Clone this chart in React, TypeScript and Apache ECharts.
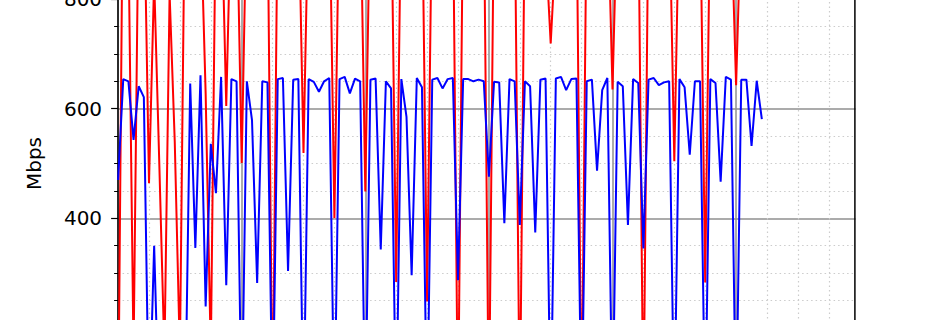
import React, { useEffect, useRef } from "react";
import * as echarts from "echarts";

// sample index on the x axis (one sample per step)
const blueValues: number[] = [
  470, 654, 650, 543, 641, 621, 20, 350, 20, 20, 20, 20, 20, 20,
  646, 346, 661, 239, 536, 446, 658,
  278, 654, 650, 20, 650, 579, 282, 650, 648, 20,
  654, 656, 304, 653, 654, 20, 654, 649, 631, 650, 656,
  20, 654, 658, 628, 655, 650, 20, 653, 655, 343, 650, 637, 20, 654, 585, 296, 656, 639, 20, 653, 656,
  637, 654, 656, 287, 654, 654, 650, 653, 650, 476, 649, 648, 391, 654, 650, 388, 650, 641, 374, 653, 655,
  20, 655, 658, 634, 654, 655, 20, 650, 653, 487, 634, 656, 20, 649, 641, 388, 654, 647, 345, 653, 656,
  643, 648, 650, 20, 654, 639, 516, 650, 650, 20, 654, 647, 467, 658, 653, 20, 653, 653, 532, 651, 581,
];

const redValues: number[] = [
  0, 1100, 920, 150, 1000, 1010, 464, 836, 500, 150, 810, 540, 150, 1030, 1000, 1000, 963, 628, 150, 1000, 1000,
  605, 1000, 1000, 501, 1000, 1010, 1000, 1000, 1000, 20,
  1000, 1000, 1010, 1000, 1000, 519, 1000, 1000, 1000, 1000, 1020,
  400, 1020, 1000, 1000, 1000, 1020, 449, 1020, 1000, 1000, 1000, 1020, 284, 1020, 1000, 1000, 1000, 1020, 248, 1020, 1000,
  1000, 1000, 1000, 20, 1000, 1000, 1000, 1000, 1000, 20, 1000, 1000, 1000, 1000, 1000, 20, 1000, 1000, 1000, 1000, 900,
  719, 900, 1000, 1000, 1000, 1000, 20, 1000, 1000, 1000, 1000, 1000, 635, 1000, 1000, 1000, 1000, 1000, 20, 1000, 1000,
  1000, 1000, 1000, 504, 1000, 1000, 1000, 1000, 1000, 283, 1000, 1000, 1000, 1000, 966, 643, 966, 1000, 1000, 1000, 1000,
];

const yTickInterval = 200;
const xTickInterval = 24;

export default function App() {
  const ref = useRef<HTMLDivElement>(null);
  useEffect(() => {
    if (!ref.current) return;
    const chart = echarts.init(ref.current, undefined, { renderer: "svg" });
    const font = "DejaVu Sans";
    const majorGrid = { show: true, lineStyle: { color: "#8f8f8f", width: 1.5 } };
    const minorGrid = { show: true, lineStyle: { color: "#cccccc", width: 1.2, type: [1.5, 3] as any } };
    chart.setOption({
      animation: false,
      backgroundColor: "#ffffff",
      grid: { left: 118.1, right: 90.3, top: 39.5, bottom: 62.5, containLabel: false },
      xAxis: {
        type: "value",
        min: 0,
        max: 144,
        interval: xTickInterval,
        axisLine: { show: false },
        axisTick: { show: false },
        axisLabel: { show: false },
        splitLine: majorGrid,
        minorTick: { show: false, splitNumber: 4 },
        minorSplitLine: minorGrid,
      },
      yAxis: {
        type: "value",
        min: 0,
        max: 1000,
        interval: yTickInterval,
        name: "Mbps",
        nameLocation: "middle",
        nameGap: 74,
        nameMoveOverlap: false,
        nameTextStyle: { fontFamily: font, fontSize: 20, color: "#000" },
        axisLine: { show: true, onZero: false, lineStyle: { color: "#000", width: 1.5 } },
        axisTick: { show: true, length: 7, lineStyle: { color: "#000", width: 1.2 } },
        minorTick: { show: true, splitNumber: 4, length: 4, lineStyle: { color: "#000", width: 1 } },
        axisLabel: { fontFamily: font, fontSize: 20, color: "#000", margin: 16 },
        splitLine: majorGrid,
        minorSplitLine: minorGrid,
      },
      series: [
        {
          type: "line",
          data: redValues.map((v, i) => [i, v]),
          showSymbol: false,
          symbol: "none",
          lineStyle: { color: "#ff0000", width: 2 },
          z: 2,
        },
        {
          type: "line",
          data: blueValues.map((v, i) => [i, v]),
          showSymbol: false,
          symbol: "none",
          lineStyle: { color: "#0000ff", width: 2 },
          z: 3,
        },
      ],
      graphic: [
        { type: "rect", z: 100, shape: { x: 855.6, y: 0, width: 100, height: 650 }, style: { fill: "#ffffff" } },
        { type: "line", z: 101, shape: { x1: 854.9, y1: 0, x2: 854.9, y2: 650 }, style: { stroke: "#000", lineWidth: 1.5 } },
      ],
    });
    return () => chart.dispose();
  }, []);
  return (
    <div style={{ position: "absolute", left: 0, top: 0, width: 950, height: 320, overflow: "hidden", background: "#fff" }}>
      <div ref={ref} style={{ position: "absolute", left: 0, top: -150, width: 950, height: 650 }} />
    </div>
  );
}
